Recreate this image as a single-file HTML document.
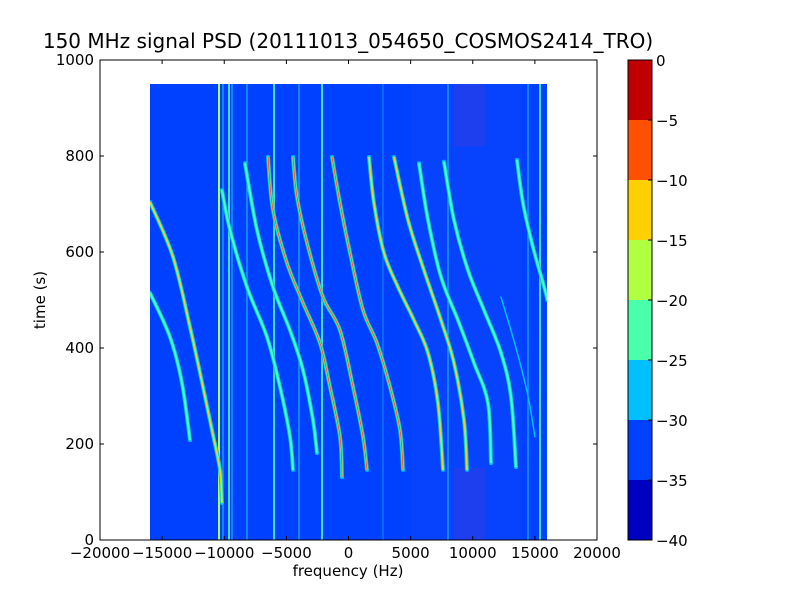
<!DOCTYPE html>
<html><head><meta charset="utf-8"><style>
body{margin:0;background:#fff}
svg{display:block;font-family:"DejaVu Sans","Liberation Sans",sans-serif}
</style></head><body>
<svg id="chart" width="800" height="600" viewBox="0 0 800 600">
<rect width="800" height="600" fill="#fff"/>
<text x="348" y="48" font-size="20" text-anchor="middle">150 MHz signal PSD (20111013_054650_COSMOS2414_TRO)</text>
<clipPath id="cp"><rect x="150" y="84" width="397" height="456"/></clipPath>
<rect x="150" y="84" width="397" height="456" fill="#0040ff"/>
<g id="noise" clip-path="url(#cp)"></g>
<g id="vlines" clip-path="url(#cp)"></g>
<g id="traces" clip-path="url(#cp)"></g>
<rect x="100" y="60" width="497" height="480" fill="none" stroke="#000" stroke-width="1"/>
<g id="axes"></g>
<text x="348" y="576" font-size="15" text-anchor="middle">frequency (Hz)</text>
<text x="45" y="300" font-size="15" text-anchor="middle" transform="rotate(-90 45 300)">time (s)</text>
<g id="cbar"></g>
</svg>
<script>
// data
const xTicks=[-20000,-15000,-10000,-5000,0,5000,10000,15000,20000];
const yTicks=[0,200,400,600,800,1000];
const cbLevels=[-40,-35,-30,-25,-20,-15,-10,-5,0];
const cbColors=["#0000c0","#0040ff","#00c0ff","#4affaa","#b0ff40","#ffd000","#ff5000","#c00000"];
const vlineFreqs=[-10423,-10101,-9618,-9376,-8169,-5996,-3984,-2133,2777,8008,14447,15412];
const vlineStrength=[3,1,2,1,1,2,1,2,0,1,1,2];
const traceA_f=[-15976,-14125,-12757,-11710,-10986,-10342,-10181];
const traceA_t=[704,590,444,319,229,146,77];
const traceB_f=[-15976,-14366,-13400,-12757];
const traceB_t=[515,423,327,208];
const traceC_f=[-10181,-9537,-8169,-6559,-5513,-4708,-4467];
const traceC_t=[729,646,527,423,319,215,146];
const traceD_f=[-8330,-7364,-6076,-4708,-3662,-2857,-2535];
const traceD_t=[785,646,527,437,354,250,181];
const traceE_f=[-6479,-6076,-4950,-3662,-2294,-1489,-684,-523];
const traceE_t=[798,687,577,494,410,319,215,131];
const traceF_f=[-4467,-4145,-3340,-2052,-684,362,1167,1489];
const traceF_t=[798,715,619,506,437,319,215,146];
const traceG_f=[-1328,-684,121,1167,2294,3340,4145,4386];
const traceG_t=[798,702,598,479,410,319,229,146];
const traceH_f=[1650,2052,2857,3984,5272,6398,7203,7606];
const traceH_t=[798,702,598,527,458,390,285,146];
const traceI_f=[3662,4789,6076,7445,8491,9296,9537];
const traceI_t=[798,667,562,458,369,250,146];
const traceJ_f=[5674,6398,7445,8813,10101,11228,11469];
const traceJ_t=[785,667,548,458,369,285,160];
const traceK_f=[7686,8491,9618,10906,12274,13079,13481];
const traceK_t=[788,667,562,479,390,298,152];
const traceL_f=[13562,14045,14850,15815,16000];
const traceL_t=[792,702,610,521,500];
const traceM_f=[12274,13481,14447,15000];
const traceM_t=[506,400,300,215];
const traceStrength=[2,1,1,1,3,3,3,2,2,1,1,1,0];

const NS="http://www.w3.org/2000/svg";
const X=f=>100+(f+20000)*497/40000;
const Y=t=>540-t*0.48;
function mk(tag,parent,attrs){const e=document.createElementNS(NS,tag);for(const k in attrs)e.setAttribute(k,attrs[k]);parent.appendChild(e);return e;}
function smooth(p){
  let d="M"+p[0][0]+","+p[0][1];
  for(let i=0;i<p.length-1;i++){
    const p0=p[Math.max(0,i-1)],p1=p[i],p2=p[i+1],p3=p[Math.min(p.length-1,i+2)];
    const c1=[p1[0]+(p2[0]-p0[0])/6,p1[1]+(p2[1]-p0[1])/6];
    const c2=[p2[0]-(p3[0]-p1[0])/6,p2[1]-(p3[1]-p1[1])/6];
    d+=" C"+c1[0]+","+c1[1]+" "+c2[0]+","+c2[1]+" "+p2[0]+","+p2[1];
  }
  return d;
}

// noise regions
const noise=document.getElementById('noise');
let r=mk('rect',noise,{x:X(8500),y:Y(950),width:X(11000)-X(8500),height:Y(820)-Y(950),fill:"#3a3ad8",opacity:0.45});


r=mk('rect',noise,{x:X(8500),y:Y(150),width:X(11000)-X(8500),height:Y(0)-Y(150),fill:"#3a3ad8",opacity:0.45});


r=mk('rect',noise,{x:X(5000),y:Y(950),width:X(14000)-X(5000),height:Y(0)-Y(950),fill:"#3050f0",opacity:0.15});



// vertical lines
const vl=document.getElementById('vlines');
vlineFreqs.forEach((f,i)=>{
  const s=vlineStrength[i];
  const ln=mk('line',vl,{x1:X(f),x2:X(f),y1:Y(950),y2:Y(0),stroke:s>=3?"#b0ff40":(s==2?"#40e0d0":"#20b0ff"),"stroke-width":s>=2?2:1.2,opacity:s==0?0.6:1});
  
  
});

// traces
const traces=[[traceA_f,traceA_t],[traceB_f,traceB_t],[traceC_f,traceC_t],[traceD_f,traceD_t],[traceE_f,traceE_t],[traceF_f,traceF_t],[traceG_f,traceG_t],[traceH_f,traceH_t],[traceI_f,traceI_t],[traceJ_f,traceJ_t],[traceK_f,traceK_t],[traceL_f,traceL_t],[traceM_f,traceM_t]];
const tg=document.getElementById('traces');
traces.forEach((tr,i)=>{
  const d=smooth(tr[0].map((f,j)=>[X(f),Y(tr[1][j])]));
  const s=traceStrength[i];
  const g=mk('g',tg,{});
  
  
  mk('path',g,{d:d,fill:"none",stroke:"#00c0ff","stroke-width":s==0?1.5:4,"stroke-linecap":"round"});
  if(s>=1)mk('path',g,{d:d,fill:"none",stroke:"#4affaa","stroke-width":2.2});
  if(s>=2)mk('path',g,{d:d,fill:"none",stroke:"#ffd000","stroke-width":1.4});
  if(s>=3)mk('path',g,{d:d,fill:"none",stroke:"#ff5000","stroke-width":0.9});
});

// axes
const ax=document.getElementById('axes');
xTicks.forEach(v=>{
  const x=X(v);
  mk('line',ax,{x1:x,x2:x,y1:540,y2:536,stroke:"#000"});
  mk('line',ax,{x1:x,x2:x,y1:60,y2:64,stroke:"#000"});
  const t=mk('text',ax,{x:x,y:558,"font-size":15,"text-anchor":"middle"});
  t.textContent=(v<0?"\u2212":"")+Math.abs(v);
  
  
});
yTicks.forEach(v=>{
  const y=Y(v);
  mk('line',ax,{x1:100,x2:104,y1:y,y2:y,stroke:"#000"});
  mk('line',ax,{x1:597,x2:593,y1:y,y2:y,stroke:"#000"});
  const t=mk('text',ax,{x:94,y:y+5,"font-size":15,"text-anchor":"end"});
  t.textContent=v;
  
  
});

// colorbar
const cb=document.getElementById('cbar');
const CY=v=>540-(v+40)*12;
cbColors.forEach((c,i)=>{
  const rr=mk('rect',cb,{x:628,y:CY(cbLevels[i+1]),width:24,height:CY(cbLevels[i])-CY(cbLevels[i+1]),fill:c});
  
  
});
mk('rect',cb,{x:628,y:60,width:24,height:480,fill:"none",stroke:"#000"});
cbLevels.forEach(v=>{
  const y=CY(v);
  mk('line',cb,{x1:648,x2:652,y1:y,y2:y,stroke:"#000"});
  const t=mk('text',cb,{x:656,y:y+6,"font-size":15});
  t.textContent=(v<0?"\u2212":"")+Math.abs(v);
  
  
});
</script>
</body></html>
